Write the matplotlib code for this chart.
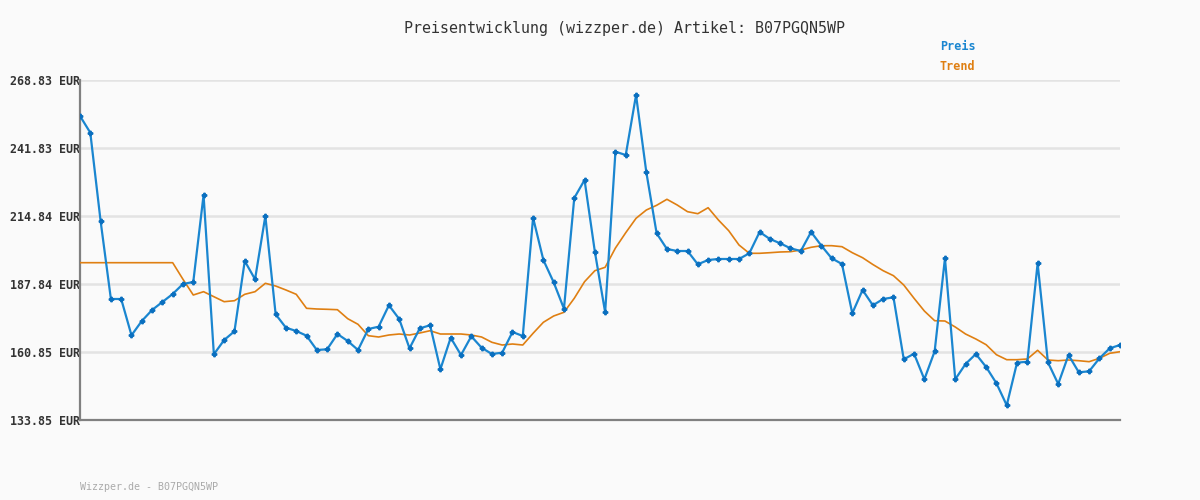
import matplotlib
matplotlib.use("Agg")
import matplotlib.pyplot as plt
import numpy as np

# Preis (blue) and Trend (orange), one value per day
preis = [254.54, 247.91, 212.85, 181.89, 181.89, 167.48, 173.15, 177.52, 180.70, 183.87,
         187.84, 188.64, 223.17, 159.93, 165.61, 169.06, 196.97, 189.71, 214.84, 175.81,
         170.49, 169.18, 167.32, 161.64, 161.92, 167.99, 165.21, 161.64, 169.98, 170.89,
         179.39, 173.95, 162.31, 170.25, 171.45, 153.98, 166.52, 159.65, 167.08, 162.55,
         160.05, 160.57, 168.79, 167.20, 214.16, 197.37, 188.52, 178.04, 221.98, 229.13,
         200.67, 176.61, 240.37, 239.05, 262.87, 232.19, 207.97, 201.74, 200.94, 200.94,
         195.66, 197.37, 197.77, 197.77, 197.77, 200.03, 208.49, 205.71, 204.00, 202.01,
         200.94, 208.49, 203.05, 198.04, 195.78, 176.21, 185.46, 179.39, 181.89, 182.56,
         157.95, 160.17, 150.01, 161.12, 198.04, 150.01, 156.08, 160.05, 154.89, 148.42,
         139.69, 156.60, 157.00, 196.06, 156.76, 148.14, 159.65, 152.79, 153.18, 158.34,
         162.31, 163.62]

trend = [196.30, 196.30, 196.30, 196.30, 196.30, 196.30, 196.30, 196.30, 196.30, 196.30,
         189.71, 183.47, 184.79, 182.80, 180.82, 181.21, 183.75, 184.79, 188.12, 187.05,
         185.46, 183.75, 178.19, 177.92, 177.80, 177.64, 174.07, 171.84, 167.32, 166.80,
         167.59, 167.99, 167.59, 168.39, 169.30, 167.99, 167.99, 167.99, 167.59, 166.80,
         164.70, 163.62, 164.02, 163.62, 168.27, 172.64, 175.14, 176.61, 182.16, 188.76,
         193.12, 194.47, 202.13, 208.21, 213.92, 217.22, 219.09, 221.47, 219.20, 216.55,
         215.75, 218.13, 213.25, 209.00, 203.32, 200.03, 200.03, 200.27, 200.55, 200.67,
         201.34, 202.41, 203.05, 203.05, 202.65, 200.27, 198.28, 195.58, 193.12, 191.14,
         187.44, 182.16, 177.12, 173.27, 173.15, 170.77, 167.99, 166.01, 163.74, 159.77,
         157.79, 157.79, 158.07, 161.52, 157.67, 157.39, 157.67, 157.39, 157.00, 158.34,
         160.33, 160.96]

yticks = [133.85, 160.85, 187.84, 214.84, 241.83, 268.83]
ytick_labels = ["%.2f EUR" % v for v in yticks]

title = "Preisentwicklung (wizzper.de) Artikel: B07PGQN5WP"
footer = "Wizzper.de - B07PGQN5WP"

bg = "#fafafa"
blue = "#1a86d0"
orange = "#df7f12"
mono = "DejaVu Sans Mono"

fig = plt.figure(figsize=(12, 5), dpi=100, facecolor=bg)
ax = fig.add_axes([80 / 1200, 1 - 420 / 500, 1040 / 1200, 340 / 500], facecolor=bg)

x = np.arange(len(preis))
ax.plot(x, trend, color=orange, lw=1.2, zorder=3)
ax.plot(x, preis, color=blue, lw=1.6, marker="P", ms=3.2, mfc="#0a6fbf",
        mec="#0a6fbf", zorder=4)

ax.set_xlim(0, len(preis) - 1)
ax.set_ylim(yticks[0], yticks[-1])
ax.set_xticks([])
ax.set_yticks(yticks)
ax.set_yticklabels(ytick_labels, fontfamily=mono, fontweight="bold",
                   fontsize=8.4, color="#333333")
ax.tick_params(axis="y", length=0, pad=0)
ax.grid(axis="y", color="#e3e3e3", lw=1.8, zorder=0)

for side in ["top", "right"]:
    ax.spines[side].set_visible(False)
for side in ["left", "bottom"]:
    ax.spines[side].set_color("#808080")
    ax.spines[side].set_linewidth(1.6)

fig.text(624 / 1200, 1 - 28 / 500, title, ha="center", va="center",
         fontfamily=mono, fontsize=10.8, color="#333333")
fig.text(940 / 1200, 1 - 47 / 500, "Preis", ha="left", va="center",
         fontfamily=mono, fontweight="bold", fontsize=8.5, color=blue)
fig.text(940 / 1200, 1 - 67 / 500, "Trend", ha="left", va="center",
         fontfamily=mono, fontweight="bold", fontsize=8.5, color=orange)
fig.text(80 / 1200, 1 - 487 / 500, footer, ha="left", va="center",
         fontfamily=mono, fontsize=7.2, color="#aaaaaa")

fig.savefig("out.png", dpi=100, facecolor=bg)
